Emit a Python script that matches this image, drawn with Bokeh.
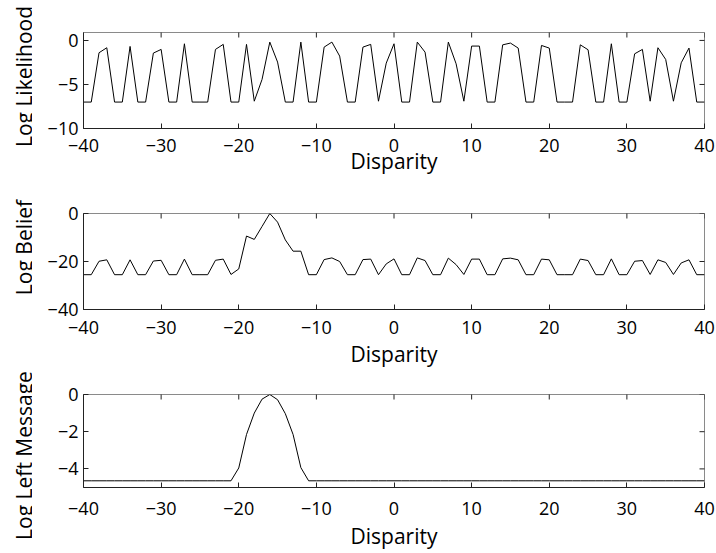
import math
from bokeh.plotting import figure
from bokeh.models import FixedTicker, Range1d, Label
from bokeh.layouts import column, row
from bokeh.embed import file_html
from bokeh.resources import INLINE

disparity = list(range(-40, 41))

log_likelihood = [
    -7, -7, -1.4, -0.83, -7, -7, -0.68, -7, -7, -1.44,
    -1.02, -7, -7, -0.38, -7, -7, -7, -1.02, -0.45, -7,
    -7, -0.45, -6.9, -4.43, -0.19, -2.46, -7, -7, -0.19, -7,
    -7, -0.76, -0.19, -1.78, -7, -7, -0.76, -0.45, -6.9, -2.58,
    -0.38, -7, -7, -0.19, -1.33, -7, -7, -0.19, -2.65, -6.9,
    -0.64, -0.64, -7, -7, -0.5, -0.3, -0.87, -7, -7, -0.57,
    -0.87, -7, -7, -7, -0.5, -1.06, -7, -7, -0.38, -7,
    -7, -1.52, -1.02, -6.9, -0.83, -2.16, -6.9, -2.54, -0.87, -7,
    -7,
]

log_belief = [
    -25.5, -25.5, -19.9, -19.3, -25.5, -25.5, -19.3, -25.5, -25.5, -19.8,
    -19.5, -25.5, -25.5, -19.0, -25.5, -25.5, -25.5, -19.5, -19.0, -25.4,
    -23.1, -9.4, -10.8, -5.4, 0.0, -3.6, -11.0, -15.7, -15.7, -25.5,
    -25.5, -19.2, -18.5, -20.0, -25.5, -25.5, -19.2, -19.0, -25.5, -21.0,
    -18.9, -25.5, -25.5, -18.5, -19.6, -25.5, -25.5, -18.6, -21.3, -25.4,
    -19.0, -19.0, -25.5, -25.5, -18.9, -18.6, -19.3, -25.5, -25.5, -19.0,
    -19.3, -25.5, -25.5, -25.5, -19.0, -19.6, -25.5, -25.5, -18.9, -25.5,
    -25.5, -19.9, -19.6, -25.4, -19.3, -20.4, -25.4, -20.6, -19.3, -25.5,
    -25.5,
]

log_left_message = [
    -4.64, -4.64, -4.64, -4.64, -4.64, -4.64, -4.64, -4.64, -4.64, -4.64,
    -4.64, -4.64, -4.64, -4.64, -4.64, -4.64, -4.64, -4.64, -4.64, -4.64,
    -3.95, -2.15, -1.0, -0.25, 0.0, -0.28, -1.03, -2.15, -3.93, -4.64,
    -4.64, -4.64, -4.64, -4.64, -4.64, -4.64, -4.64, -4.64, -4.64, -4.64,
    -4.64, -4.64, -4.64, -4.64, -4.64, -4.64, -4.64, -4.64, -4.64, -4.64,
    -4.64, -4.64, -4.64, -4.64, -4.64, -4.64, -4.64, -4.64, -4.64, -4.64,
    -4.64, -4.64, -4.64, -4.64, -4.64, -4.64, -4.64, -4.64, -4.64, -4.64,
    -4.64, -4.64, -4.64, -4.64, -4.64, -4.64, -4.64, -4.64, -4.64, -4.64,
    -4.64,
]

x_ticks = [-40, -30, -20, -10, 0, 10, 20, 30, 40]
x_tick_labels = ["\u221240", "\u221230", "\u221220", "\u221210", "0", "10", "20", "30", "40"]

y_labels = ["Log Likelihood", "Log Belief", "Log Left Message"]
y_limits = [(-10, 0.9), (-40, 0), (-5, 0)]
y_ticks = [[-10, -5, 0], [-40, -20, 0], [-4, -2, 0]]
y_tick_labels = [["\u221210", "\u22125", "0"], ["\u221240", "\u221220", "0"], ["\u22124", "\u22122", "0"]]
series = [log_likelihood, log_belief, log_left_message]

# layout styling (pixels)
LABEL_W = 32
TOTAL_H = 552
fig_heights = [190, 181, 181]
top_borders = [32, 23, 23]
tick_standoff = [10, 11, 14]
xlabel_standoff = [-8, 3, 4]
ylabel_baseline_x = 23
ylabel_center_y = [76, 247, 455]

FONT = "Open Sans"
AX_DARK = "#222222"
AX_LIGHT = "#8a8a8a"

# narrow strip holding the rotated y-axis titles (they span beyond a single panel)
lab = figure(width=LABEL_W, height=TOTAL_H, x_range=Range1d(0, LABEL_W), y_range=Range1d(TOTAL_H, 0),
             output_backend="svg", toolbar_location=None, min_border=0)
lab.axis.visible = False
lab.grid.visible = False
lab.outline_line_color = None
for txt, cy in zip(y_labels, ylabel_center_y):
    lab.add_layout(Label(x=ylabel_baseline_x, y=cy, text=txt, angle=90, angle_units="deg",
                         text_align="center", text_baseline="alphabetic",
                         text_font=FONT, text_font_size="21px", text_color="black"))

figs = []
for i in range(3):
    lo, hi = y_limits[i]
    p = figure(width=716 - LABEL_W, height=fig_heights[i], x_range=Range1d(-40, 40),
               y_range=Range1d(lo, hi), output_backend="svg", toolbar_location=None,
               min_border_left=83 - LABEL_W, min_border_right=12, min_border_top=top_borders[i],
               min_border_bottom=62)
    p.grid.visible = False
    p.outline_line_color = AX_LIGHT
    p.background_fill_color = "white"

    xa = p.xaxis[0]
    xa.ticker = FixedTicker(ticks=x_ticks)
    xa.major_label_overrides = dict(zip(x_ticks, x_tick_labels))
    xa.axis_label = "Disparity"
    ya = p.yaxis[0]
    ya.ticker = FixedTicker(ticks=y_ticks[i])
    ya.major_label_overrides = dict(zip(y_ticks[i], y_tick_labels[i]))
    for ax in (xa, ya):
        ax.major_tick_in = 5
        ax.major_tick_out = 0
        ax.minor_tick_in = 0
        ax.minor_tick_out = 0
        ax.axis_line_color = AX_DARK
        ax.major_tick_line_color = AX_DARK
        ax.major_label_text_font = FONT
        ax.major_label_text_font_size = "18px"
        ax.major_label_text_color = "black"
        ax.axis_label_text_font = FONT
        ax.axis_label_text_font_size = "21px"
        ax.axis_label_text_font_style = "normal"
        ax.axis_label_text_color = "black"
    xa.major_label_standoff = tick_standoff[i]
    xa.axis_label_standoff = xlabel_standoff[i]
    ya.major_label_standoff = 5

    # mirrored inward ticks on top and right edges of the box
    p.scatter(x=x_ticks, y=[hi] * len(x_ticks), marker="dash", size=10, angle=math.pi / 2,
              line_color=AX_DARK, line_width=1)
    p.scatter(x=[40] * len(y_ticks[i]), y=y_ticks[i], marker="dash", size=10,
              line_color=AX_DARK, line_width=1)

    p.line(disparity, series[i], line_color="black", line_width=1)
    figs.append(p)

layout = row(lab, column(*figs, spacing=0), spacing=0)
open("out.html", "w").write(file_html(layout, INLINE))
